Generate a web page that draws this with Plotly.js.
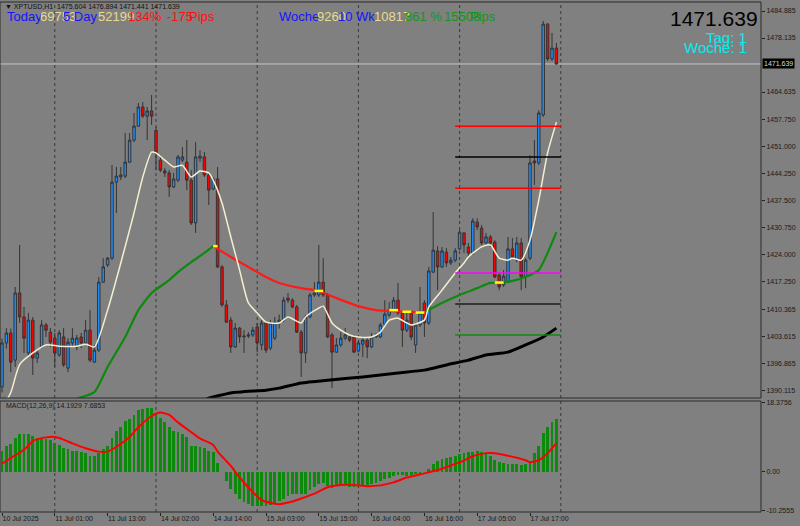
<!DOCTYPE html>
<html><head><meta charset="utf-8">
<script src="https://cdn.plot.ly/plotly-3.0.1.min.js"></script>
<style>html,body{margin:0;padding:0;background:#808080;}#chart{width:800px;height:526px;}</style>
</head><body><div id="chart"></div>
<script>
// ---------- DATA ----------
const symbolTitle = "\u25BC XPTUSD,H1  1475.604 1476.894 1471.441 1471.639";
const macdTitle = "MACD(12,26,9) 14.1929 7.6853";

const opens = [1390.9,1401.9,1404.4,1397.6,1414.4,1408.4,1399.4,1407.6,1398.1,1400.9,
1406.4,1404.6,1403.1,1398.9,1403.4,1395.6,1401.9,1400.9,1403.4,1401.9,
1405.1,1397.1,1400.1,1417.1,1421.4,1423.1,1442.1,1443.4,1443.6,1447.1,
1452.6,1456.1,1460.9,1458.6,1459.9,1455.0,1447.6,1444.9,1444.4,1440.9,
1442.6,1447.6,1447.1,1442.6,1431.9,1448.1,1448.4,1443.9,1440.4,1442.9,
1420.9,1411.4,1407.6,1400.9,1405.6,1403.4,1403.6,1403.9,1405.9,1401.4,
1406.9,1400.6,1403.1,1407.1,1407.6,1413.1,1412.6,1410.9,1404.6,1399.4,
1408.4,1413.9,1413.9,1417.1,1413.9,1403.9,1399.6,1401.4,1403.1,1403.4,
1403.4,1399.9,1401.6,1402.6,1400.9,1403.4,1403.4,1406.6,1408.9,1410.1,
1412.6,1409.4,1405.1,1409.4,1401.4,1406.4,1411.9,1406.9,1419.6,1424.9,
1420.9,1424.6,1421.9,1422.6,1425.4,1429.4,1425.9,1424.4,1432.1,1430.6,
1426.9,1428.4,1427.1,1418.9,1416.4,1417.1,1425.4,1422.6,1426.9,1418.4,
1423.1,1447.4,1446.9,1458.9,1481.6,1472.9,1475.604];
const highs = [1403.0,1405.6,1405.5,1415.9,1426.4,1410.9,1409.4,1408.4,1400.1,1407.6,
1406.9,1405.6,1404.4,1405.1,1405.6,1403.1,1405.6,1403.9,1404.4,1407.6,
1410.1,1401.4,1418.4,1423.1,1423.4,1446.4,1445.9,1445.9,1454.4,1454.4,
1459.4,1461.9,1462.1,1460.9,1463.9,1455.9,1448.9,1445.6,1445.1,1444.4,
1448.9,1450.9,1452.6,1445.1,1452.1,1450.1,1449.6,1444.6,1443.4,1445.9,
1421.4,1412.6,1408.4,1406.9,1405.9,1405.1,1404.6,1405.9,1406.9,1407.6,
1407.1,1407.6,1408.4,1409.0,1413.4,1414.4,1413.1,1411.4,1405.1,1408.9,
1414.4,1417.1,1426.4,1423.1,1414.4,1404.4,1403.1,1404.6,1405.6,1403.9,
1403.9,1402.6,1403.4,1403.1,1404.4,1404.4,1406.9,1412.6,1412.1,1413.4,
1416.9,1409.6,1409.4,1409.6,1406.9,1415.9,1412.6,1420.9,1434.6,1426.1,
1425.9,1425.6,1423.4,1425.6,1430.1,1429.6,1426.9,1433.1,1433.1,1431.4,
1429.4,1428.9,1427.6,1419.4,1420.1,1428.4,1428.1,1428.4,1428.1,1423.1,
1448.9,1452.6,1460.1,1482.4,1481.9,1479.4,1476.894];
const lows = [1389.5,1400.5,1394.6,1395.9,1406.9,1399.4,1398.4,1393.9,1396.9,1400.6,
1403.4,1400.9,1395.9,1398.4,1395.9,1394.6,1400.9,1400.1,1400.6,1401.4,
1397.1,1396.9,1399.6,1416.9,1420.9,1422.6,1434.4,1442.6,1443.1,1446.9,
1452.1,1455.9,1458.1,1452.6,1456.4,1445.1,1444.6,1443.4,1438.4,1440.6,
1442.1,1447.1,1440.1,1431.4,1429.4,1447.1,1443.4,1436.4,1440.1,1420.6,
1410.9,1406.9,1399.4,1400.6,1401.9,1399.4,1403.1,1403.4,1399.6,1400.1,
1399.4,1400.1,1402.6,1405.5,1407.1,1411.9,1410.6,1404.4,1393.4,1396.9,
1408.1,1413.4,1413.4,1413.4,1403.1,1390.6,1399.4,1400.9,1402.6,1402.1,
1399.4,1399.6,1398.4,1398.1,1400.6,1403.1,1403.1,1406.1,1408.4,1409.6,
1408.9,1400.9,1404.6,1402.6,1399.4,1405.9,1403.4,1406.4,1419.4,1415.1,
1420.6,1420.9,1421.4,1422.1,1425.1,1424.4,1423.4,1423.9,1430.1,1426.4,
1426.4,1425.9,1418.1,1415.1,1415.9,1416.9,1423.1,1422.1,1415.1,1415.6,
1422.6,1441.4,1446.4,1458.4,1472.4,1472.4,1471.441];
const closes = [1401.9,1404.4,1397.1,1414.4,1408.4,1403.1,1407.6,1398.1,1399.4,1406.4,
1405.1,1402.1,1399.4,1404.4,1396.4,1402.1,1403.1,1403.1,1401.9,1405.1,
1397.6,1400.1,1417.1,1420.9,1423.1,1442.1,1443.6,1443.9,1447.1,1452.6,
1456.1,1460.9,1458.6,1459.9,1458.6,1449.4,1445.1,1444.4,1440.9,1442.9,
1448.4,1448.4,1442.6,1431.9,1448.4,1448.6,1443.9,1440.1,1442.9,1420.9,
1411.4,1407.1,1400.9,1405.6,1403.4,1403.6,1403.9,1405.1,1401.9,1406.9,
1400.1,1406.9,1407.1,1407.6,1412.6,1412.6,1410.9,1404.6,1399.4,1408.4,
1413.9,1414.4,1417.1,1413.9,1403.4,1399.6,1401.4,1403.1,1403.9,1402.6,
1399.6,1401.9,1402.6,1400.9,1403.4,1403.9,1406.4,1409.1,1410.1,1412.6,
1409.4,1405.1,1407.6,1403.4,1406.4,1409.4,1406.9,1419.9,1425.1,1420.9,
1424.9,1421.9,1422.6,1424.9,1429.6,1426.4,1424.4,1432.4,1430.9,1426.9,
1428.4,1426.9,1418.4,1415.9,1418.6,1425.4,1423.4,1426.9,1418.4,1422.6,
1446.9,1446.9,1459.4,1481.6,1472.9,1475.6,1471.639];

// fast moving average (cream) read at selected bars
const fastIdx = [0,2,4,7,10,13,17,19,21,24,27,30,32,34,35,37,39,41,43,45,47,48,50,52,54,56,58,60,63,65,68,69,72,73,75,77,79,81,84,86,88,90,92,93,96,97,100,103,105,106,109,111,113,115,116,118,120,122,124,126];
const fastVal = [1385.5,1389.5,1396.5,1399.4,1401.4,1401.1,1401.1,1401.6,1400.9,1410.1,1421.9,1434.4,1443.4,1449.6,1449.4,1447.6,1445.9,1446.3,1443.4,1444.9,1444.4,1442.6,1436.9,1428.4,1420.1,1411.9,1409.4,1407.1,1406.9,1408.4,1406.9,1408.4,1410.6,1411.1,1406.9,1405.1,1403.9,1403.4,1403.4,1404.6,1407.6,1408.1,1406.9,1406.4,1407.6,1410.9,1415.1,1419.4,1421.9,1423.4,1425.9,1426.4,1423.1,1422.6,1423.1,1422.6,1427.6,1437.6,1449.4,1457.1];

// slow moving average (green rising / red falling)
const slowIdx = [17,21,24,28,31,34,38,40,43,46,48,52,56,60,63,68,72,76,81,85,88,92,96,100,104,108,111,113,116,119,122,124,126];
const slowVal = [1388.0,1389.6,1395.9,1403.4,1410.1,1414.4,1417.6,1419.6,1422.1,1424.4,1426.1,1423.4,1420.9,1418.4,1416.9,1415.6,1414.9,1413.1,1411.1,1410.1,1409.9,1409.7,1409.6,1411.9,1413.9,1415.6,1416.9,1417.0,1417.4,1418.4,1420.1,1424.4,1429.6];
const slowTurns = [48, 96];
const yellowFrom = [48,71,88,91,94,112];
const yellowTo   = [49,73,90,93,96,114];
const yellowVal  = [1426.1,1414.9,1410.1,1409.7,1409.5,1417.0];

// long moving average (black)
const longIdx = [46,47,52,60,63,68,74,82,90,96,101,106,110,115,119,123,126];
const longVal = [1387.6,1388.1,1389.4,1390.1,1390.6,1391.9,1392.6,1393.4,1394.4,1395.1,1396.4,1397.6,1398.9,1399.6,1401.4,1403.4,1405.6];

// daily levels (current day)
const levelVals = [1456.06,1448.39,1440.56,1419.38,1411.64,1403.89];

// MACD
const macdHist = [5.6,6.9,7.5,9.1,10.0,10.0,10.2,9.6,9.1,9.1,
8.9,8.5,7.6,7.2,6.5,6.1,5.7,5.5,5.2,5.0,
4.3,4.2,5.0,6.1,7.0,9.1,10.9,12.1,13.5,14.2,
15.3,16.4,16.8,17.1,17.1,15.6,14.3,13.2,11.9,10.9,
10.6,10.0,9.3,6.9,6.9,6.7,6.3,5.7,5.2,2.4,
-0.1,-2.3,-4.5,-6.0,-7.3,-8.1,-8.6,-9.0,-9.2,-9.2,
-9.0,-8.8,-8.2,-7.8,-7.1,-6.5,-5.9,-5.9,-6.0,-5.9,
-4.9,-4.1,-3.2,-3.0,-3.8,-4.2,-3.8,-3.6,-3.6,-4.1,
-4.1,-3.8,-3.6,-3.4,-3.2,-3.0,-2.4,-1.9,-1.5,-1.0,
-0.8,-0.7,-1.0,-0.8,-0.6,-0.5,0.1,0.8,2.0,2.9,
3.4,3.7,4.0,4.3,4.8,5.0,5.2,5.4,5.7,5.4,
4.8,4.2,3.3,2.6,2.4,2.2,2.2,2.2,1.8,2.0,
2.9,5.0,6.9,10.3,12.1,13.3,14.1929];
const sigIdx = [0,2,5,7,10,12,14,16,19,22,24,26,29,31,34,36,38,40,43,45,48,49,52,54,57,59,62,63,66,68,71,74,77,80,83,86,89,92,96,99,102,105,107,110,112,115,119,120,122,124,126];
const sigVal = [2.2,3.7,5.9,8.2,9.2,9.3,8.6,7.6,6.3,5.4,5.4,6.7,9.3,11.9,14.9,15.8,15.2,13.2,10.6,8.9,7.2,5.4,1.6,-1.5,-5.4,-7.5,-8.5,-8.6,-7.9,-7.1,-5.8,-4.1,-3.5,-3.5,-3.8,-3.6,-2.8,-1.5,-0.4,0.5,1.7,3.0,4.2,5.0,5.0,4.3,3.1,2.6,3.1,5.0,7.6853];

// axes
const tickIdx = [0,12,24,36,48,60,72,84,96,108,120];
const tickText = ['10 Jul 2025','11 Jul 01:00','11 Jul 13:00','14 Jul 02:00','14 Jul 14:00','15 Jul 03:00','15 Jul 15:00','16 Jul 04:00','16 Jul 16:00','17 Jul 05:00','17 Jul 17:00'];
const dayStartIdx = [12,35,58,81,104,127];
const priceTicks = [1484.885,1478.135,1464.635,1457.750,1451.000,1444.250,1437.500,1430.750,1424.000,1417.250,1410.365,1403.615,1396.865,1390.115];
const macdTicks = [18.3756,0,-10.2555];
const macdTickText = ['18.3756','0.00','-10.2555'];

// info panel texts
const infoLabels = [
  {t:'Today', c:'blue'}, {t:'69753', c:'khaki'}, {t:'5 Day', c:'blue'}, {t:'52199', c:'khaki'},
  {t:'134%', c:'red'}, {t:'-175', c:'red'}, {t:'Pips', c:'red'},
  {t:'Woche', c:'blue'}, {t:'9260', c:'khaki'}, {t:'10 Wk', c:'blue'}, {t:'10817', c:'khaki'},
  {t:'861 %', c:'green'}, {t:'15508', c:'green'}, {t:'Pips', c:'green'}
];
const tagText = 'Tag: 1';
const wocheText = 'Woche: 1';

// ---------- LAYOUT HELPERS ----------
const W = 800, H = 526, ML = 0, MR = 39, MT = 2, MB = 14;
const PW = W - ML - MR, PH = H - MT - MB;
const px = x => (x - ML) / PW;
const py = y => (H - MB - y) / PH;
const mainDom = [py(398), 1];
const macdDom = [0, py(401)];
const FONT = 'Liberation Sans, Arial, sans-serif';
const colorMap = {blue:'#1414ff', khaki:'#e8dc8c', red:'#ff1010', green:'#14961a'};
const infoX = [5,38,61,96,126,165,187,277,315,336,372,403,442,468];

const idx = opens.map((_, i) => i);
const traces = [];

traces.push({
  type:'candlestick', x: idx, open: opens, high: highs, low: lows, close: closes,
  xaxis:'x', yaxis:'y', whiskerwidth: 0, hoverinfo:'skip', showlegend:false,
  increasing:{line:{color:'#333333', width:1}, fillcolor:'#1e8fff'},
  decreasing:{line:{color:'#333333', width:1}, fillcolor:'#ff0000'}
});

// long MA
traces.push({type:'scatter', mode:'lines', x: longIdx, y: longVal, xaxis:'x', yaxis:'y',
  line:{color:'#000000', width:3, shape:'spline', smoothing:0.5}, hoverinfo:'skip', showlegend:false});

// slow MA segments
function seg(lo, hi) {
  const xs = [], ys = [];
  slowIdx.forEach((v, k) => { if (v >= lo && v <= hi) { xs.push(v); ys.push(slowVal[k]); } });
  return {x: xs, y: ys};
}
const s1 = seg(-1, slowTurns[0]), s2 = seg(slowTurns[0], slowTurns[1]), s3 = seg(slowTurns[1], 1e9);
[[s1,'#0d8a0d'],[s2,'#ff1a1a'],[s3,'#0d8a0d']].forEach(([s, c]) => {
  traces.push({type:'scatter', mode:'lines', x: s.x, y: s.y, xaxis:'x', yaxis:'y',
    line:{color:c, width:2.2, shape:'spline', smoothing:0.5}, hoverinfo:'skip', showlegend:false});
});
// yellow markers
const yx = [], yy = [];
yellowFrom.forEach((f, k) => { yx.push(f, yellowTo[k], null); yy.push(yellowVal[k], yellowVal[k], null); });
traces.push({type:'scatter', mode:'lines', x: yx, y: yy, xaxis:'x', yaxis:'y',
  line:{color:'#ffff00', width:2.5}, hoverinfo:'skip', showlegend:false});

// fast MA
traces.push({type:'scatter', mode:'lines', x: fastIdx, y: fastVal, xaxis:'x', yaxis:'y',
  line:{color:'#f3eed0', width:1.5, shape:'spline', smoothing:0.6}, hoverinfo:'skip', showlegend:false});

// daily levels
const levelColors = ['#ff0000','#000000','#ff0000','#ff00ff','#1c1c1c','#118a11'];
levelVals.forEach((v, k) => {
  traces.push({type:'scatter', mode:'lines', x:[dayStartIdx[4]-1, dayStartIdx[5]], y:[v, v], xaxis:'x', yaxis:'y',
    line:{color: levelColors[k], width:1.4}, hoverinfo:'skip', showlegend:false});
});

// MACD
traces.push({type:'bar', x: idx, y: macdHist, xaxis:'x', yaxis:'y2', width:0.62,
  marker:{color:'#0c8a0c', line:{width:0}}, hoverinfo:'skip', showlegend:false});
traces.push({type:'scatter', mode:'lines', x: sigIdx, y: sigVal, xaxis:'x', yaxis:'y2',
  line:{color:'#ff0000', width:2, shape:'spline', smoothing:0.6}, hoverinfo:'skip', showlegend:false});

// ---------- SHAPES ----------
const shapes = [];
dayStartIdx.forEach(d => {
  shapes.push({type:'line', xref:'x', x0:d, x1:d, yref:'paper', y0:mainDom[0], y1:1, layer:'below',
    line:{color:'#3a3a3a', width:1, dash:'dot'}});
  shapes.push({type:'line', xref:'x', x0:d, x1:d, yref:'paper', y0:0, y1:macdDom[1], layer:'below',
    line:{color:'#3a3a3a', width:1, dash:'dot'}});
});
const lastClose = closes[closes.length - 1];
shapes.push({type:'line', xref:'paper', x0:0, x1:1, yref:'y', y0:lastClose, y1:lastClose, layer:'below',
  line:{color:'#c4c4c4', width:1}});
shapes.push({type:'rect', xref:'paper', x0:0, x1:1, yref:'paper', y0:mainDom[0], y1:1,
  line:{color:'#2a2a2a', width:1}});
shapes.push({type:'rect', xref:'paper', x0:0, x1:1, yref:'paper', y0:0, y1:macdDom[1],
  line:{color:'#2a2a2a', width:1}});

// ---------- ANNOTATIONS ----------
const ann = [];
ann.push({xref:'paper', yref:'paper', x:px(3), y:py(7), xanchor:'left', yanchor:'middle', showarrow:false,
  text: symbolTitle, font:{family:FONT, size:7, color:'#101010'}});
ann.push({xref:'paper', yref:'paper', x:px(4), y:py(406), xanchor:'left', yanchor:'middle', showarrow:false,
  text: macdTitle, font:{family:FONT, size:7, color:'#1a1a1a'}});
infoLabels.forEach((l, k) => {
  ann.push({xref:'paper', yref:'paper', x:px(infoX[k]), y:py(16), xanchor:'left', yanchor:'middle', showarrow:false,
    text: l.t, font:{family:FONT, size:13, color: colorMap[l.c]}});
});
ann.push({xref:'paper', yref:'paper', x:px(760), y:py(18.5), xanchor:'right', yanchor:'middle', showarrow:false,
  text: lastClose.toFixed(3), font:{family:FONT, size:21, color:'#000000'}});
ann.push({xref:'paper', yref:'paper', x:px(749), y:py(37.5), xanchor:'right', yanchor:'middle', showarrow:false,
  text: tagText, font:{family:FONT, size:15, color:'#00eeee'}});
ann.push({xref:'paper', yref:'paper', x:px(749), y:py(47.5), xanchor:'right', yanchor:'middle', showarrow:false,
  text: wocheText, font:{family:FONT, size:15, color:'#00eeee'}});
ann.push({xref:'paper', yref:'y', x:1, y:lastClose, xanchor:'left', yanchor:'middle', xshift:1, showarrow:false,
  text: lastClose.toFixed(3), bgcolor:'#000000', borderpad:1, font:{family:FONT, size:7, color:'#d8d8d8'}});

const tickFont = {family:FONT, size:7, color:'#1a1a1a'};
const layout = {
  width:W, height:H, margin:{l:ML, r:MR, t:MT, b:MB, pad:0},
  paper_bgcolor:'#808080', plot_bgcolor:'#808080', showlegend:false, dragmode:false,
  boxgap:0.2,
  xaxis:{domain:[0,1], range:[-0.4545, 172.5], anchor:'y2', showgrid:false, zeroline:false,
    tickmode:'array', tickvals: tickIdx, ticktext: tickText, ticks:'outside', ticklen:3, tickcolor:'#222',
    ticklabelposition:'outside right', tickfont: tickFont, rangeslider:{visible:false}, showline:false, fixedrange:true},
  yaxis:{domain: mainDom, range:[1388.135, 1487.135], side:'right', anchor:'x', showgrid:false, zeroline:false,
    tickmode:'array', tickvals: priceTicks, tickformat:'.3f', ticks:'outside', ticklen:3, tickcolor:'#222',
    tickfont: tickFont, showline:false, fixedrange:true},
  yaxis2:{domain: macdDom, range:[-10.7, 18.9], side:'right', anchor:'x', showgrid:false, zeroline:false,
    tickmode:'array', tickvals: macdTicks, ticktext: macdTickText, ticks:'outside', ticklen:3, tickcolor:'#222',
    tickfont: tickFont, showline:false, fixedrange:true},
  shapes: shapes, annotations: ann, bargap:0
};
Plotly.newPlot('chart', traces, layout, {displayModeBar:false, staticPlot:true});
</script></body></html>
